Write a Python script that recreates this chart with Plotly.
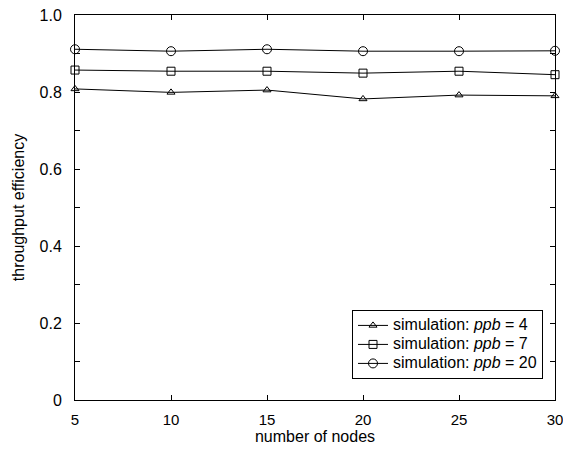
import plotly.graph_objects as go

nodes = [5, 10, 15, 20, 25, 30]
ppb4 = [0.808, 0.799, 0.805, 0.782, 0.792, 0.790]
ppb7 = [0.857, 0.854, 0.854, 0.849, 0.854, 0.845]
ppb20 = [0.911, 0.906, 0.911, 0.906, 0.906, 0.907]
ppb_values = ["4", "7", "20"]
symbols = ["triangle-up-open", "square-open", "circle-open"]
sizes = [7, 8, 9]

FAM = "Liberation Sans, Arial, sans-serif"

fig = go.Figure()
for y, p, s, sz in zip([ppb4, ppb7, ppb20], ppb_values, symbols, sizes):
    name = '<span style="font-size:16px">simulation: <i>ppb</i> = ' + p + '</span>'
    fig.add_trace(go.Scatter(x=nodes, y=y, name=name, mode="lines+markers",
                             line=dict(color="black", width=1),
                             marker=dict(symbol=s, size=sz, color="black", line=dict(width=1, color="black")),
                             cliponaxis=False))

# the page body has an 8px margin; size the figure so the page does not overflow the window
fig.update_layout(
    width=555, height=437,
    margin=dict(l=67, r=8, t=7, b=45, autoexpand=False),
    paper_bgcolor="white", plot_bgcolor="white",
    font=dict(family=FAM, size=15, color="black"),
    showlegend=True,
    legend=dict(x=0.975, y=0.234, xanchor="right", yanchor="top",
                bordercolor="black", borderwidth=1, bgcolor="white",
                font=dict(family=FAM, size=11, color="black"),
                tracegroupgap=0, itemwidth=30),
)
fig.update_xaxes(range=[5, 30], tickvals=[5, 10, 15, 20, 25, 30], ticks="inside", ticklen=5,
                 tickcolor="black",
                 showline=True, linecolor="black", linewidth=1, mirror="ticks", showgrid=False,
                 zeroline=False, automargin=False, ticklabelstandoff=6, ticklabeloverflow="allow",
                 title=dict(text="number of nodes", standoff=6, font=dict(family=FAM, size=16)),
                 tickfont=dict(family=FAM, size=15))
fig.update_yaxes(range=[0, 1], tickvals=[0, 0.2, 0.4, 0.6, 0.8, 1.0],
                 ticktext=["0", "0.2", "0.4", "0.6", "0.8", "1.0"],
                 ticks="inside", ticklen=5, tickcolor="black",
                 minor=dict(dtick=0.1, ticks="inside", ticklen=5, tickcolor="black", showgrid=False),
                 showline=True, linecolor="black", linewidth=1, mirror="ticks", showgrid=False,
                 zeroline=False, automargin=False, ticklabelstandoff=9, ticklabeloverflow="allow",
                 title=dict(text="throughput efficiency", standoff=10, font=dict(family=FAM, size=16)),
                 tickfont=dict(family=FAM, size=16))

fig.write_html("out.html")
